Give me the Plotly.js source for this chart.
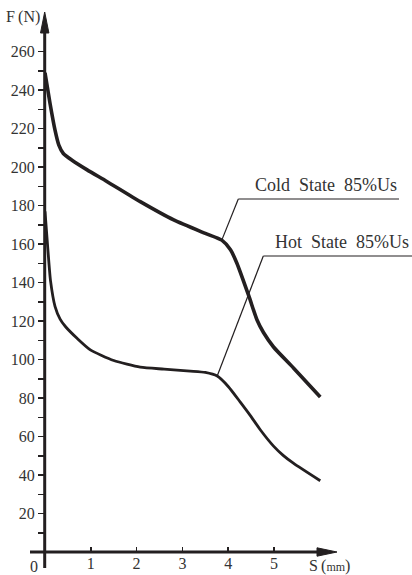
<!DOCTYPE html>
<html>
<head>
<meta charset="utf-8">
<script src="https://cdn.plot.ly/plotly-3.0.1.min.js"></script>
<style>html,body{margin:0;padding:0;background:#fff;}#chart{width:412px;height:575px;}</style>
</head>
<body>
<div id="chart"></div>
<script>
// ---- data ----
var coldS = [0, 0.11, 0.22, 0.3, 0.4, 0.59, 0.92, 1.35, 2.08, 2.81, 3.5, 3.86, 4.05, 4.19, 4.45, 4.63, 4.77, 4.99, 5.43, 6.01];
var coldF = [249, 233, 219, 211.5, 207, 203.5, 198.5, 192.5, 182, 172.5, 165.5, 162, 157, 150, 133, 120.5, 114, 106.5, 95.5, 80.5];
var hotS = [0, 0.06, 0.12, 0.22, 0.33, 0.45, 0.7, 0.99, 1.5, 2.08, 2.6, 3.17, 3.5, 3.76, 4.0, 4.26, 4.48, 4.70, 4.99, 5.2, 5.43, 6.01];
var hotF = [177, 158, 141, 127.5, 121, 117, 111, 105, 99.5, 96, 95, 94, 93.3, 91.4, 86, 78, 71, 63.5, 55, 50.2, 46, 37];
var xTickVals = [1, 2, 3, 4, 5];
var yTickVals = [20, 40, 60, 80, 100, 120, 140, 160, 180, 200, 220, 240, 260];
var yMinorVals = [10, 30, 50, 70, 90, 110, 130, 150, 170, 190, 210, 230, 250];
var coldLabel = "Cold\u00a0\u00a0State\u00a0\u00a085%Us";
var hotLabel = "Hot\u00a0\u00a0State\u00a0\u00a085%Us";
var coldLabelIdx = 11;
var hotLabelIdx = 13;

// ---- geometry ----
var L = 45, R = 75, T = 13, B = 23, WD = 412, HT = 575;
var W = WD - L - R, H = HT - T - B;
var XMAX = W / 45.8, YMAX = 280;
function PX(px) { return (px - L) / W; }
function PY(py) { return (HT - B - py) / H; }
function DX(s) { return s / XMAX; }
function DY(f) { return f / YMAX; }

var ink = '#231f20';
var txt = '#333333';
var fontFam = '"Liberation Serif", "DejaVu Serif", serif';

var traces = [
  {x: coldS, y: coldF, mode: 'lines', line: {color: ink, width: 3.6, shape: 'spline', smoothing: 0.6}, hoverinfo: 'skip', cliponaxis: false},
  {x: hotS, y: hotF, mode: 'lines', line: {color: ink, width: 2.8, shape: 'spline', smoothing: 0.6}, hoverinfo: 'skip', cliponaxis: false}
];

var shapes = [
  {type: 'line', xref: 'paper', yref: 'paper', x0: PX(44.7), x1: PX(44.7), y0: PY(568), y1: PY(28), line: {color: ink, width: 3}},
  {type: 'line', xref: 'paper', yref: 'paper', x0: PX(30), x1: PX(322), y0: PY(552), y1: PY(552), line: {color: ink, width: 3}},
  {type: 'path', xref: 'paper', yref: 'paper', fillcolor: ink, line: {color: ink, width: 1},
   path: 'M' + PX(44.7) + ',' + PY(12) + ' L' + PX(40.5) + ',' + PY(33) + ' L' + PX(48.9) + ',' + PY(33) + ' Z'},
  {type: 'path', xref: 'paper', yref: 'paper', fillcolor: ink, line: {color: ink, width: 1},
   path: 'M' + PX(337) + ',' + PY(552) + ' L' + PX(317) + ',' + PY(547.8) + ' L' + PX(317) + ',' + PY(556.2) + ' Z'},
  {type: 'line', xref: 'paper', yref: 'paper', x0: DX(coldS[coldLabelIdx]), y0: DY(coldF[coldLabelIdx]), x1: PX(238.3), y1: PY(199), line: {color: ink, width: 1.2}},
  {type: 'line', xref: 'paper', yref: 'paper', x0: PX(238.3), y0: PY(199), x1: PX(399), y1: PY(199), line: {color: ink, width: 1.2}},
  {type: 'line', xref: 'paper', yref: 'paper', x0: DX(hotS[hotLabelIdx]), y0: DY(hotF[hotLabelIdx]), x1: PX(263.3), y1: PY(256), line: {color: ink, width: 1.2}},
  {type: 'line', xref: 'paper', yref: 'paper', x0: PX(263.3), y0: PY(256), x1: PX(412), y1: PY(256), line: {color: ink, width: 1.2}}
];

var annotations = [
  {xref: 'paper', yref: 'paper', x: PX(399), y: PY(197), xanchor: 'right', yanchor: 'bottom', text: coldLabel, showarrow: false,
   font: {family: fontFam, size: 18, color: txt}},
  {xref: 'paper', yref: 'paper', x: PX(411), y: PY(254), xanchor: 'right', yanchor: 'bottom', text: hotLabel, showarrow: false,
   font: {family: fontFam, size: 18, color: txt}},
  {xref: 'paper', yref: 'paper', x: PX(42), y: PY(17), xanchor: 'right', yanchor: 'middle', text: 'F\u2009(N)', showarrow: false,
   font: {family: fontFam, size: 16, color: txt}},
  {xref: 'paper', yref: 'paper', x: PX(307), y: PY(566), xanchor: 'left', yanchor: 'middle', text: 'S\u2009(<span style="font-size:12px">mm</span>)', showarrow: false,
   font: {family: fontFam, size: 16, color: txt}},
  {xref: 'paper', yref: 'paper', x: PX(33.5), y: PY(566), xanchor: 'center', yanchor: 'middle', text: '0', showarrow: false,
   font: {family: fontFam, size: 16, color: txt}}
];

var layout = {
  width: WD, height: HT,
  margin: {l: L, r: R, t: T, b: B, pad: 0},
  paper_bgcolor: '#ffffff', plot_bgcolor: '#ffffff',
  showlegend: false,
  font: {family: fontFam, color: txt},
  xaxis: {
    range: [0, XMAX], showgrid: false, zeroline: false, showline: false,
    tickmode: 'array', tickvals: xTickVals, ticks: 'inside', ticklen: 5, tickwidth: 1.5, tickcolor: ink,
    tickfont: {family: fontFam, size: 16, color: txt}, fixedrange: true
  },
  yaxis: {
    range: [0, YMAX], showgrid: false, zeroline: false, showline: false,
    tickmode: 'array', tickvals: yTickVals, ticks: 'outside', ticklen: 6, tickwidth: 1.5, tickcolor: ink,
    minor: {tickmode: 'array', tickvals: yMinorVals, ticks: 'outside', ticklen: 6, tickwidth: 1.5, tickcolor: ink, showgrid: false},
    tickfont: {family: fontFam, size: 16, color: txt}, fixedrange: true
  },
  shapes: shapes,
  annotations: annotations
};

Plotly.newPlot('chart', traces, layout, {displayModeBar: false, staticPlot: true});
</script>
</body>
</html>
